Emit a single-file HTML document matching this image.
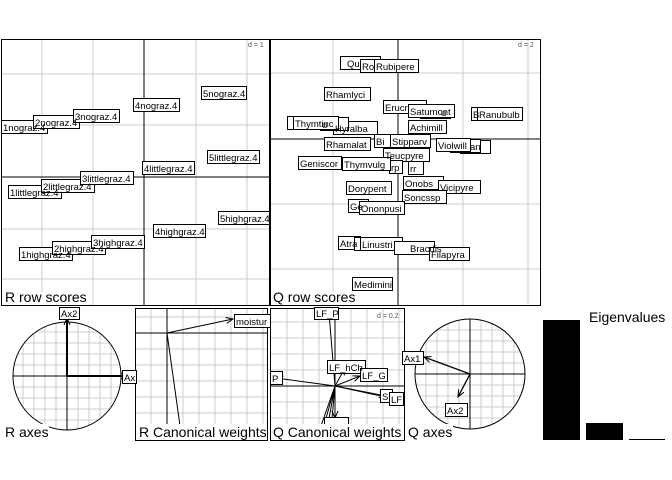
<!DOCTYPE html><html><head><style>body{margin:0;background:#fff}svg{display:block}text{font-family:"Liberation Sans",sans-serif}</style></head><body>
<svg width="672" height="480" xmlns="http://www.w3.org/2000/svg">
<defs>
<clipPath id="c1"><rect x="1" y="39" width="268" height="266"/></clipPath>
<clipPath id="c2"><rect x="270" y="39" width="270" height="266"/></clipPath>
<clipPath id="c3"><rect x="135" y="308" width="133" height="132"/></clipPath>
<clipPath id="c4"><rect x="270" y="308" width="135" height="132"/></clipPath>
<clipPath id="ca"><circle cx="67" cy="376" r="54"/></clipPath>
<clipPath id="cb"><circle cx="470" cy="374" r="55"/></clipPath>
<marker id="ar" markerWidth="8" markerHeight="8" refX="7" refY="4" orient="auto" markerUnits="userSpaceOnUse"><path d="M0,1 L7,4 L0,7" fill="none" stroke="#000"/></marker>
</defs>
<g stroke="#ccc" stroke-width="1">
<path d="M42,39V305M93,39V305M196,39V305M247,39V305M1,74H269M1,125H269M1,229H269M1,279H269"/>
<path d="M333,39V305M463,39V305M528,39V305M270,73H540M270,204H540M270,269H540"/>
<g clip-path="url(#c3)"><path d="M151,308V440M183,308V440M199,308V440M215,308V440M231,308V440M247,308V440M263,308V440M135,317H268M135,349H268M135,365H268M135,381H268M135,397H268M135,413H268M135,429H268"/></g>
<g clip-path="url(#c4)"><path d="M287,308V440M303,308V440M319,308V440M351,308V440M367,308V440M383,308V440M399,308V440M270,322H405M270,338H405M270,354H405M270,370H405M270,402H405M270,418H405M270,434H405"/></g>
<g clip-path="url(#ca)"><path d="M23,320V432M34,320V432M45,320V432M56,320V432M78,320V432M89,320V432M100,320V432M111,320V432M12,332H122M12,343H122M12,354H122M12,365H122M12,387H122M12,398H122M12,409H122M12,420H122"/></g>
<g clip-path="url(#cb)"><path d="M426,318V430M437,318V430M448,318V430M459,318V430M481,318V430M492,318V430M503,318V430M514,318V430M414,330H526M414,341H526M414,352H526M414,363H526M414,385H526M414,396H526M414,407H526M414,418H526"/></g>
</g>
<g fill="none" stroke="#000">
<rect x="1.5" y="39.5" width="268" height="266"/><rect x="270.5" y="39.5" width="270" height="266"/>
<rect x="135.5" y="308.5" width="132" height="132"/><rect x="270.5" y="308.5" width="134" height="132"/>
<path d="M144,39V305M1,177H269M398,39V305M270,139H540"/>
<path d="M167,308V440M135,333H268M335,308V440M270,386H405"/>
<circle cx="67" cy="376" r="54"/><path d="M13,376H121M67,322V430"/>
<circle cx="470" cy="374" r="55"/><path d="M415,374H525M470,319V429"/>
<path d="M67,376H128" stroke-width="2" marker-end="url(#ar)"/><path d="M67,376V318" stroke-width="2" marker-end="url(#ar)"/>
<path d="M470,374L424,357" stroke-width="1.3" marker-end="url(#ar)"/><path d="M470,374L458,397" stroke-width="1.3" marker-end="url(#ar)"/>
<path d="M167,333L233,319" marker-end="url(#ar)"/><path d="M167,333L182,440"/>
<g clip-path="url(#c4)">
<path d="M335,386L329,313" marker-end="url(#ar)"/><path d="M335,386L276,378" marker-end="url(#ar)"/>
<path d="M335,386L345,368" marker-end="url(#ar)"/><path d="M335,386L360,376" marker-end="url(#ar)"/>
<path d="M335,386L386,396" marker-end="url(#ar)"/><path d="M335,386L395,399"/>
<path d="M335,386V418" marker-end="url(#ar)"/><path d="M335,386L316,440M335,386L320,440M335,386L325,440M335,386L330,440"/>
</g></g>
<g font-size="9.5" stroke="#000" fill="#fff">
<g clip-path="url(#c1)">
<rect x="1.5" y="120.5" width="46" height="13"/><rect x="33.5" y="115.5" width="46" height="13"/><rect x="73.5" y="109.5" width="46" height="13"/><rect x="133.5" y="98.5" width="46" height="13"/><rect x="201.5" y="86.5" width="45" height="13"/><rect x="207.5" y="150.5" width="52" height="13"/><rect x="142.5" y="161.5" width="52" height="13"/><rect x="8.5" y="185.5" width="53" height="13"/><rect x="41.5" y="179.5" width="53" height="13"/><rect x="80.5" y="171.5" width="53" height="13"/><rect x="218.5" y="211.5" width="55" height="13"/><rect x="153.5" y="224.5" width="52" height="13"/><rect x="19.5" y="247.5" width="53" height="13"/><rect x="52.5" y="241.5" width="53" height="13"/><rect x="91.5" y="235.5" width="53" height="13"/>
</g>
<g clip-path="url(#c2)">
<rect x="340.5" y="56.5" width="40" height="13"/><rect x="360.5" y="59.5" width="40" height="13"/><rect x="374.5" y="59.5" width="44" height="13"/><rect x="324.5" y="87.5" width="46" height="13"/>
<rect x="383.5" y="100.5" width="43" height="13"/><rect x="420.5" y="105.5" width="30" height="13"/><rect x="408.5" y="104.5" width="46" height="13"/><rect x="471.5" y="107.5" width="20" height="13"/><rect x="477.5" y="107.5" width="45" height="13"/>
<rect x="287.5" y="116.5" width="20" height="13"/><rect x="333.5" y="121.5" width="44" height="13"/><rect x="320.5" y="117.5" width="28" height="13"/><rect x="293.5" y="116.5" width="45" height="13"/><rect x="408.5" y="120.5" width="38" height="13"/>
<rect x="374.5" y="134.5" width="20" height="13"/><rect x="390.5" y="134.5" width="40" height="13"/><rect x="324.5" y="137.5" width="46" height="13"/><rect x="460.5" y="140.5" width="30" height="13"/><rect x="450.5" y="139.5" width="30" height="13"/><rect x="436.5" y="138.5" width="34" height="13"/>
<rect x="383.5" y="148.5" width="46" height="13"/><rect x="408.5" y="161.5" width="15" height="13"/><rect x="389.5" y="160.5" width="13" height="13"/><rect x="298.5" y="156.5" width="43" height="13"/><rect x="342.5" y="157.5" width="48" height="13"/>
<rect x="346.5" y="181.5" width="45" height="13"/><rect x="403.5" y="176.5" width="40" height="13"/><rect x="438.5" y="180.5" width="42" height="13"/><rect x="402.5" y="190.5" width="44" height="13"/>
<rect x="348.5" y="199.5" width="20" height="13"/><rect x="359.5" y="201.5" width="45" height="13"/>
<rect x="338.5" y="236.5" width="22" height="13"/><rect x="354.5" y="237.5" width="40" height="13"/><rect x="360.5" y="237.5" width="42" height="13"/><rect x="394.5" y="241.5" width="40" height="13"/><rect x="429.5" y="247.5" width="40" height="13"/><rect x="352.5" y="277.5" width="40" height="13"/>
</g>
<rect x="59.5" y="307.5" width="20" height="12"/><rect x="122.5" y="370.5" width="14" height="13"/>
<rect x="234.5" y="314.5" width="36" height="13"/>
<rect x="314.5" y="307.5" width="24" height="12"/><rect x="270.5" y="371.5" width="12" height="13"/><rect x="327.5" y="360.5" width="38" height="13"/><rect x="360.5" y="368.5" width="27" height="13"/><rect x="380.5" y="389.5" width="12" height="13"/><rect x="389.5" y="392.5" width="14" height="13"/><rect x="324.5" y="417.5" width="24" height="23"/>
<rect x="402.5" y="351.5" width="21" height="13"/><rect x="445.5" y="403.5" width="22" height="13"/>
</g>
<g font-size="9.5" fill="#000">
<g clip-path="url(#c1)">
<text x="3" y="131">1nograz.4</text><text x="35" y="126">2nograz.4</text><text x="75" y="120">3nograz.4</text><text x="135" y="109">4nograz.4</text><text x="203" y="97">5nograz.4</text><text x="209" y="161">5littlegraz.4</text><text x="144" y="172">4littlegraz.4</text><text x="10" y="196">1littlegraz.4</text><text x="43" y="190">2littlegraz.4</text><text x="82" y="182">3littlegraz.4</text><text x="220" y="222">5highgraz.4</text><text x="155" y="235">4highgraz.4</text><text x="21" y="258">1highgraz.4</text><text x="54" y="252">2highgraz.4</text><text x="93" y="246">3highgraz.4</text>
</g>
<g clip-path="url(#c2)">
<text x="347" y="67">Qu</text><text x="362" y="70">Ro</text><text x="376" y="70">Rubipere</text><text x="326" y="98">Rhamlyci</text><text x="385" y="111">Erucr</text><text x="441" y="116">u</text><text x="410" y="115">Satumont</text><text x="473" y="118">B</text><text x="479" y="118">Ranubulb</text><text x="322" y="128">u</text><text x="335" y="132">Hyralba</text><text x="295" y="127">Thymtinc</text><text x="410" y="131">Achimill</text><text x="376" y="145">Bi</text><text x="392" y="145">Stipparv</text><text x="326" y="148">Rhamalat</text><text x="438" y="149">Violwill</text><text x="470" y="150">an</text><text x="385" y="159">Teucpyre</text><text x="410" y="172">rr</text><text x="391" y="171">rp</text><text x="300" y="167">Geniscor</text><text x="344" y="168">Thymvulg</text><text x="348" y="192">Dorypent</text><text x="405" y="187">Onobs</text><text x="440" y="191">Vicipyre</text><text x="404" y="201">Soncssp</text><text x="350" y="210">Ge</text><text x="361" y="212">Ononpusi</text><text x="340" y="247">Atra</text><text x="362" y="248">Linustri</text><text x="410" y="252">Bracdis</text><text x="431" y="258">Filapyra</text><text x="354" y="288">Medimini</text>
</g>
<text x="61" y="317">Ax2</text><text x="124" y="381">Ax</text>
<text x="236" y="325" clip-path="url(#c3)">moistur</text>
<text x="316" y="317">LF_P</text><text x="272" y="382">P</text><text x="329" y="371">LF_hCh</text><text x="362" y="379">LF_G</text><text x="382" y="400">S</text><text x="391" y="403">LF</text>
<text x="404" y="362">Ax1</text><text x="447" y="414">Ax2</text>
</g>
<g fill="#000">
<rect x="543" y="320" width="37" height="120"/><rect x="586" y="423" width="37" height="17"/><rect x="629" y="439" width="36" height="1"/>
</g>
<g fill="#fff">
<rect x="2" y="292" width="87" height="13"/><rect x="271" y="292" width="87" height="13"/><rect x="2" y="424" width="47" height="16"/><rect x="136" y="424" width="131" height="16"/><rect x="271" y="424" width="133" height="16"/><rect x="405" y="424" width="48" height="16"/>
</g>
<g font-size="14" fill="#000">
<text x="5" y="302">R row scores</text><text x="273" y="302">Q row scores</text><text x="5" y="437">R axes</text><text x="139" y="437">R Canonical weights</text><text x="273" y="437">Q Canonical weights</text><text x="408" y="437">Q axes</text><text x="589" y="322">Eigenvalues</text>
</g>
<g font-size="7" fill="#555"><text x="248" y="47">d = 1</text><text x="518" y="47">d = 2</text><text x="377" y="318">d = 0.2</text></g>
</svg></body></html>
